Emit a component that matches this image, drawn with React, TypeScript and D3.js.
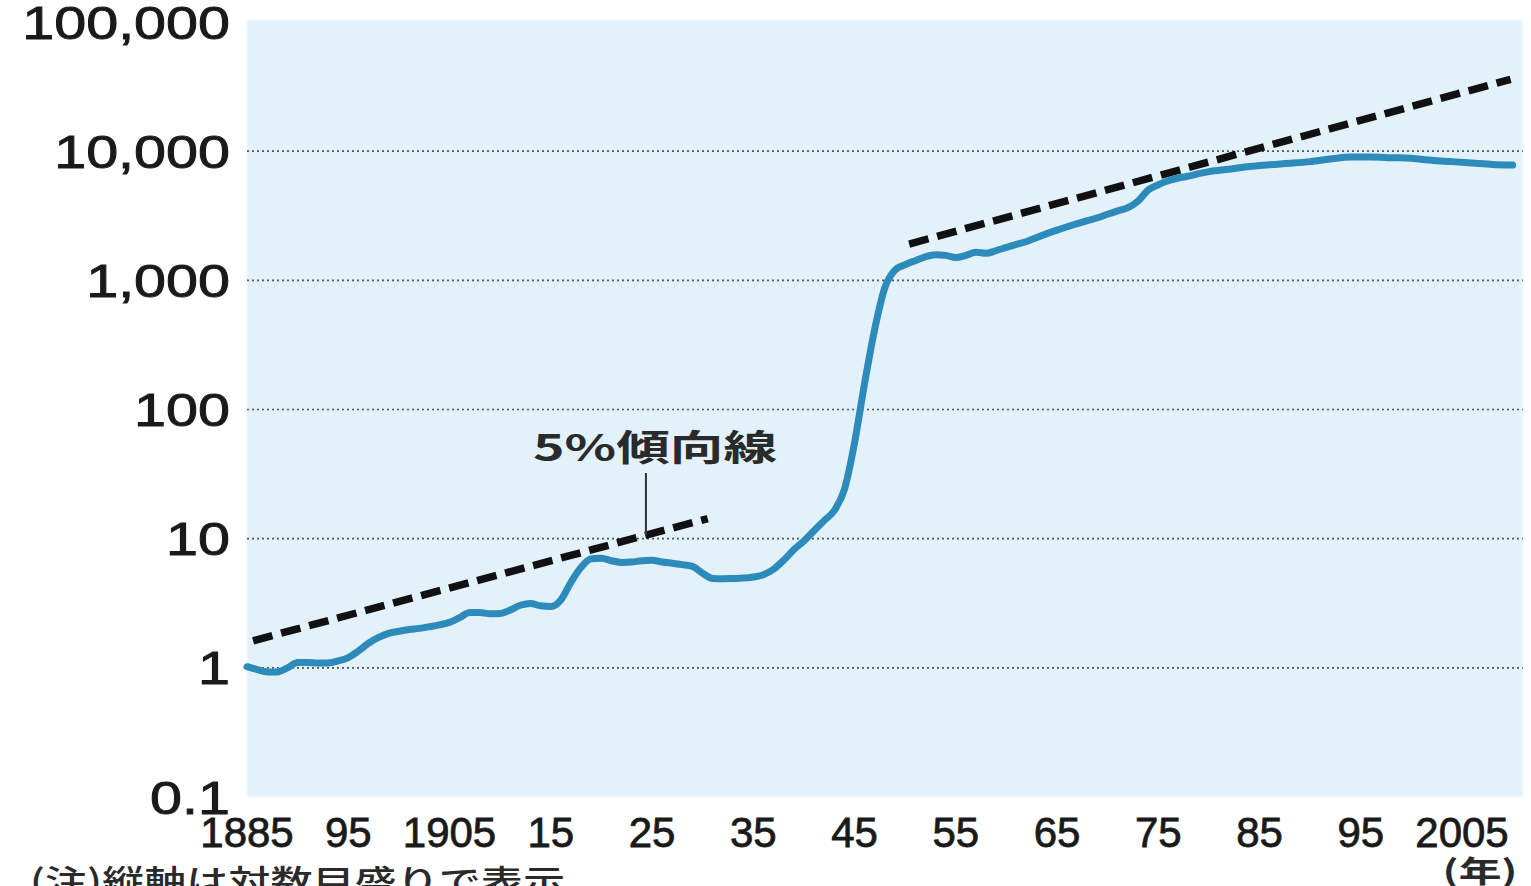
import React from "react";
import * as d3 from "d3";

// Price index (1885 = 1), plotted on a log scale
const years: number[] = [
  1885, 1886, 1887, 1888, 1889, 1890, 1891, 1892, 1893, 1894,
  1895, 1896, 1897, 1898, 1899, 1900, 1901, 1902, 1903, 1904,
  1905, 1906, 1907, 1908, 1909, 1910, 1911, 1912, 1913, 1914,
  1915, 1916, 1917, 1918, 1919, 1920, 1921, 1922, 1923, 1924,
  1925, 1926, 1927, 1928, 1929, 1930, 1931, 1932, 1933, 1934,
  1935, 1936, 1937, 1938, 1939, 1940, 1941, 1942, 1943, 1944,
  1945, 1946, 1947, 1948, 1949, 1950, 1951, 1952, 1953, 1954,
  1955, 1956, 1957, 1958, 1959, 1960, 1961, 1962, 1963, 1964,
  1965, 1966, 1967, 1968, 1969, 1970, 1971, 1972, 1973, 1974,
  1975, 1976, 1977, 1978, 1979, 1980, 1982, 1984, 1986, 1988,
  1990, 1992, 1994, 1996, 1998, 2000, 2002, 2004, 2006, 2008, 2010,
];

const priceIndex: number[] = [
  1.02, 0.97, 0.93, 0.93, 1.0, 1.1, 1.1, 1.09, 1.09, 1.13,
  1.2, 1.35, 1.55, 1.72, 1.85, 1.92, 1.98, 2.02, 2.08, 2.15,
  2.25, 2.45, 2.68, 2.68, 2.62, 2.63, 2.8, 3.05, 3.15, 3.02,
  2.98, 3.35, 4.6, 6.0, 7.0, 7.05, 6.75, 6.55, 6.6, 6.75,
  6.8, 6.6, 6.45, 6.3, 6.1, 5.4, 4.92, 4.9, 4.92, 4.95,
  5.05, 5.25, 5.8, 6.8, 8.2, 9.6, 11.5, 13.8, 16.5, 24,
  55, 160, 420, 880, 1200, 1320, 1420, 1520, 1580, 1560,
  1500, 1560, 1650, 1620, 1700, 1800, 1900, 2000, 2150, 2300,
  2450, 2600, 2750, 2900, 3050, 3250, 3450, 3650, 4100, 5000,
  5500, 5900, 6200, 6400, 6700, 6950, 7250, 7600, 7850, 8050,
  8300, 8700, 9000, 9000, 8900, 8800, 8500, 8300, 8100, 7900, 7800,
];

// 5% annual growth trend lines (end points)
const trendPrewarYears: number[] = [1885.6, 1930.5];
const trendPrewarValues: number[] = [1.62, 14.3];
const trendPostwarYears: number[] = [1950.4, 2009.8];
const trendPostwarValues: number[] = [1910, 36000];

const yTicks: number[] = [0.1, 1, 10, 100, 1000, 10000, 100000];
const yTickLabels: string[] = ["0.1", "1", "10", "100", "1,000", "10,000", "100,000"];
const gridValues: number[] = [1, 10, 100, 1000, 10000];

const xTicks: number[] = [1885, 1895, 1905, 1915, 1925, 1935, 1945, 1955, 1965, 1975, 1985, 1995, 2005];
const xTickLabels: string[] = ["1885", "95", "1905", "15", "25", "35", "45", "55", "65", "75", "85", "95", "2005"];

const annotationText = "5%傾向線";
const annotationYear = 1924.4;
const noteText = "(注)縦軸は対数目盛りで表示";
const unitText = "(年)";

const W = 1531;
const H = 886;

export default function App() {
  const x = d3.scaleLinear().domain([1885, 2011]).range([247, 1522.75]);
  const y = d3.scaleLog().domain([0.1, 100000]).range([797, 22]);

  const series = years.map((yr, i) => ({ yr, v: priceIndex[i] }));
  const line = d3
    .line<{ yr: number; v: number }>()
    .x((d) => x(d.yr))
    .y((d) => y(d.v))
    .curve(d3.curveMonotoneX);

  const trendA = trendPrewarYears.map((yr, i) => ({ yr, v: trendPrewarValues[i] }));
  const trendB = trendPostwarYears.map((yr, i) => ({ yr, v: trendPostwarValues[i] }));
  const straight = d3
    .line<{ yr: number; v: number }>()
    .x((d) => x(d.yr))
    .y((d) => y(d.v));

  const [x0, x1] = x.range();
  const top = y(100000);
  const bottom = y(0.1);

  // leader line meets the prewar trend line at the annotation year
  const annX = x(annotationYear);
  const trendScale = d3
    .scaleLog()
    .domain(trendPrewarValues)
    .range(trendPrewarYears);
  const annTrendValue = trendScale.invert(annotationYear);
  const annTrendY = y(annTrendValue);

  const labelFont = "'Liberation Sans', Arial, sans-serif";
  const cjkFont = "'Noto Sans CJK JP', sans-serif";

  return (
    <svg
      width={W}
      height={H}
      viewBox={`0 0 ${W} ${H}`}
      style={{ position: "absolute", left: 0, top: 0, background: "#ffffff" }}
    >
      <defs>
        <filter id="soft" x="-5%" y="-5%" width="110%" height="110%">
          <feGaussianBlur stdDeviation="1.5" />
        </filter>
      </defs>

      {/* plot background */}
      <rect
        x={x0}
        y={top - 2}
        width={x1 - x0}
        height={bottom - top + 2}
        fill="#e2f1fa"
        filter="url(#soft)"
      />

      {/* dotted grid lines */}
      {gridValues.map((v) => (
        <line
          key={v}
          x1={x0}
          x2={x1}
          y1={y(v)}
          y2={y(v)}
          stroke="#50565c"
          strokeWidth={1.7}
          strokeDasharray="2 3"
        />
      ))}

      {/* trend lines */}
      <path d={straight(trendA) || ""} fill="none" stroke="#111" strokeWidth={7.5} strokeDasharray="20 9" />
      <path d={straight(trendB) || ""} fill="none" stroke="#111" strokeWidth={7.5} strokeDasharray="20 9" />

      {/* price index line */}
      <path
        d={line(series) || ""}
        fill="none"
        stroke="#2d8bbb"
        strokeWidth={7}
        strokeLinejoin="round"
        strokeLinecap="round"
      />

      {/* annotation */}
      <line x1={annX} x2={annX} y1={473} y2={annTrendY} stroke="#333" strokeWidth={2} />
      <text
        x={655}
        y={461}
        textAnchor="middle"
        fontFamily={cjkFont}
        fontWeight={700}
        fontSize={36}
        fill="#2a2a2a"
        textLength={244}
        lengthAdjust="spacingAndGlyphs"
      >
        {annotationText}
      </text>

      {/* y axis labels */}
      {yTicks.map((v, i) => (
        <text
          key={v}
          transform={`translate(230, ${y(v) + 16.5}) scale(1.25, 1)`}
          textAnchor="end"
          fontFamily={labelFont}
          fontSize={46}
          fill="#1a1a1a"
          stroke="#1a1a1a"
          strokeWidth={0.9}
        >
          {yTickLabels[i]}
        </text>
      ))}

      {/* x axis labels */}
      {xTicks.map((t, i) => (
        <text
          key={i}
          x={x(t)}
          y={847}
          textAnchor="middle"
          fontFamily={labelFont}
          fontSize={42}
          fill="#1a1a1a"
          stroke="#1a1a1a"
          strokeWidth={0.8}
        >
          {xTickLabels[i]}
        </text>
      ))}

      <text
        x={1480}
        y={882}
        textAnchor="middle"
        fontFamily={cjkFont}
        fontSize={30}
        fontWeight={700}
        fill="#2a2a2a"
        textLength={75}
        lengthAdjust="spacingAndGlyphs"
      >
        {unitText}
      </text>

      <text
        x={30}
        y={893}
        fontFamily={cjkFont}
        fontSize={32}
        fontWeight={500}
        fill="#2a2a2a"
        textLength={535}
        lengthAdjust="spacingAndGlyphs"
      >
        {noteText}
      </text>
    </svg>
  );
}
